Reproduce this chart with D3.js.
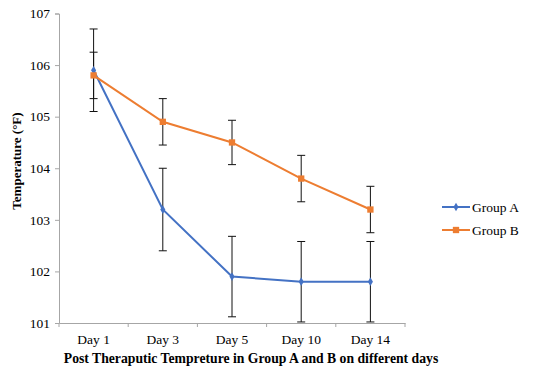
<!DOCTYPE html>
<html><head><meta charset="utf-8">
<script src="https://cdn.jsdelivr.net/npm/d3@7"></script>
<style>body{margin:0;background:#fff}svg{display:block}</style>
</head><body>
<script>
const categories = ["Day 1","Day 3","Day 5","Day 10","Day 14"];
const groupA = [105.9, 103.2, 101.9, 101.8, 101.8];
const groupAErr = [0.8, 0.8, 0.78, 0.78, 0.78];
const groupB = [105.8, 104.9, 104.5, 103.8, 103.2];
const groupBErr = [0.45, 0.45, 0.43, 0.45, 0.45];
const yTicks = [101,102,103,104,105,106,107];
const seriesNames = ["Group A","Group B"];

const W=534,H=370;
const FF='"Liberation Serif"';
const svg=d3.select("body").append("svg").attr("width",W).attr("height",H);
const x=d3.scaleBand().domain(categories).range([59,405]);
const y=d3.scaleLinear().domain([101,107]).range([323,13.5]);
const axisCol="#a6a6a6";

// y axis
const ya=svg.append("g").attr("transform","translate(59,0)")
 .call(d3.axisLeft(y).tickValues(yTicks).tickSize(4).tickPadding(5).tickFormat(d3.format("d")));
ya.select(".domain").attr("stroke",axisCol);
ya.selectAll(".tick line").attr("stroke",axisCol);
ya.selectAll("text").style("font-family",FF).style("font-size","13.5px").attr("fill","#000");

// x axis
const xa=svg.append("g").attr("transform","translate(0,323)")
 .call(d3.axisBottom(x).tickSize(0).tickPadding(11));
xa.select(".domain").attr("stroke",axisCol);
xa.selectAll("text").style("font-family",FF).style("font-size","13.5px").attr("fill","#000");
const bounds=categories.map(c=>x(c)).concat([x.range()[1]]);
svg.append("g").selectAll("line").data(bounds).join("line")
 .attr("x1",d=>d).attr("x2",d=>d).attr("y1",323).attr("y2",327).attr("stroke",axisCol);

function errBars(vals,errs,col){
  const g=svg.append("g").attr("stroke",col).attr("stroke-width",1);
  vals.forEach((v,i)=>{
    const cx=x(categories[i])+x.bandwidth()/2;
    g.append("line").attr("x1",cx).attr("x2",cx).attr("y1",y(v+errs[i])).attr("y2",y(v-errs[i]));
    [v+errs[i],v-errs[i]].forEach(e=>g.append("line").attr("x1",cx-4).attr("x2",cx+4).attr("y1",y(e)).attr("y2",y(e)));
  });
}
errBars(groupA,groupAErr,"#111");
errBars(groupB,groupBErr,"#111");

const cxOf=i=>x(categories[i])+x.bandwidth()/2;
const line=d3.line().x((d,i)=>cxOf(i)).y(d=>y(d));
const colA="#4472C4",colB="#ED7D31";
svg.append("path").datum(groupA).attr("d",line).attr("fill","none").attr("stroke",colA).attr("stroke-width",2);
svg.append("path").datum(groupB).attr("d",line).attr("fill","none").attr("stroke",colB).attr("stroke-width",2);
const diamond=d3.symbol().type(d3.symbolDiamond).size(22);
const square=d3.symbol().type(d3.symbolSquare).size(40);
svg.append("g").selectAll("path").data(groupA).join("path")
 .attr("transform",(d,i)=>`translate(${cxOf(i)},${y(d)})`).attr("d",diamond).attr("fill",colA);
svg.append("g").selectAll("path").data(groupB).join("path")
 .attr("transform",(d,i)=>`translate(${cxOf(i)},${y(d)})`).attr("d",square).attr("fill",colB);

const leg=[{n:seriesNames[0],c:colA,s:diamond,y:207},{n:seriesNames[1],c:colB,s:square,y:230}];
leg.forEach(l=>{
  svg.append("line").attr("x1",442).attr("x2",470).attr("y1",l.y).attr("y2",l.y).attr("stroke",l.c).attr("stroke-width",2);
  svg.append("path").attr("transform",`translate(456,${l.y})`).attr("d",l.s).attr("fill",l.c);
  svg.append("text").attr("x",472).attr("y",l.y).attr("dy","0.35em")
   .style("font-family",FF).style("font-size","13.5px").text(l.n);
});

svg.append("text").attr("x",251).attr("y",358).attr("dy","0.35em").attr("text-anchor","middle")
 .style("font-family",FF).style("font-size","13.7px").style("font-weight","bold")
 .text("Post Theraputic Tempreture in Group A and B on different days");
svg.append("text").attr("transform","translate(16,161) rotate(-90)").attr("dy","0.35em").attr("text-anchor","middle")
 .style("font-family",FF).style("font-size","13px").style("font-weight","bold")
 .text("Temperature (°F)");
</script>
</body></html>
